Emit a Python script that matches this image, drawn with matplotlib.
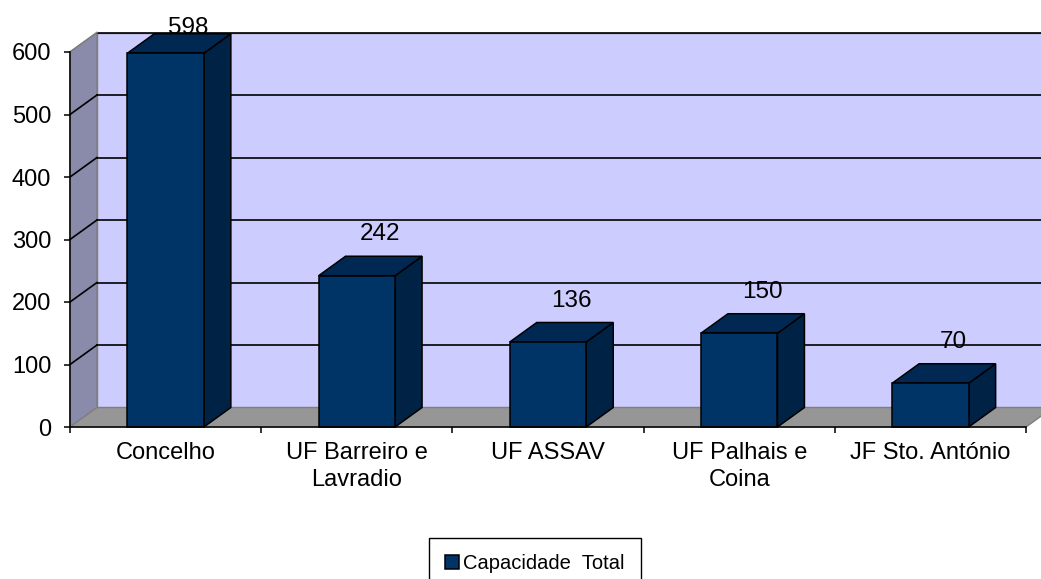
import matplotlib
matplotlib.use("Agg")
import matplotlib.pyplot as plt
from matplotlib.patches import Polygon, Rectangle, Patch

# data
categories = ['Concelho', 'UF Barreiro e\nLavradio', 'UF ASSAV',
              'UF Palhais e\nCoina', 'JF Sto. António']
values = [598, 242, 136, 150, 70]
y_ticks = [0, 100, 200, 300, 400, 500, 600]
series_name = 'Capacidade  Total'

plt.rcParams['font.family'] = ['Liberation Sans', 'DejaVu Sans']

W, H = 1041, 579
fig = plt.figure(figsize=(W / 100, H / 100), dpi=100)
fig.patch.set_facecolor('white')

# plot area (front plane)
left_px, right_px, zero_px, top_px = 70, 1026, 427, 52
ax = fig.add_axes([left_px / W, (H - zero_px) / H,
                   (right_px - left_px) / W, (zero_px - top_px) / H])
n = len(categories)
ymax = y_ticks[-1]
ax.set_xlim(0, n)
ax.set_ylim(0, ymax)
ax.set_facecolor('none')

# depth offset of the fake 3D, in data units
dx = 27 / (right_px - left_px) * n
dy = 19.5 / (zero_px - top_px) * ymax

# walls and floor
ax.add_patch(Polygon([(0, 0), (dx, dy), (dx, ymax + dy), (0, ymax)],
                     closed=True, facecolor='#8a8aab', edgecolor='#7f7f7f',
                     lw=1, clip_on=False, zorder=0.5))
ax.add_patch(Rectangle((dx, dy), n, ymax, facecolor='#ccccff',
                       edgecolor='#7f7f7f', lw=1, clip_on=False, zorder=0.5))
ax.add_patch(Polygon([(0, 0), (n, 0), (n + dx, dy), (dx, dy)],
                     closed=True, facecolor='#969696', edgecolor='#7f7f7f',
                     lw=1, clip_on=False, zorder=0.6))

# gridlines on the back wall
for t in y_ticks[1:]:
    ax.plot([dx, n + dx], [t + dy, t + dy], color='black', lw=1.2,
            clip_on=False, zorder=0.8)
    ax.plot([0, dx], [t, t + dy], color='#7f7f7f' if t == ymax else 'black',
            lw=1.2, clip_on=False, zorder=0.8)

# bars
bw = 0.4
front_c, top_c, side_c = '#003366', '#002852', '#002244'
for i, v in enumerate(values):
    x0 = i + 0.5 - bw / 2
    ax.add_patch(Polygon([(x0 + bw, 0), (x0 + bw + dx, dy),
                          (x0 + bw + dx, v + dy), (x0 + bw, v)],
                         closed=True, facecolor=side_c, edgecolor='black',
                         lw=1.1, clip_on=False, zorder=3))
    ax.add_patch(Polygon([(x0, v), (x0 + bw, v), (x0 + bw + dx, v + dy),
                          (x0 + dx, v + dy)],
                         closed=True, facecolor=top_c, edgecolor='black',
                         lw=1.1, clip_on=False, zorder=3))
    ax.add_patch(Rectangle((x0, 0), bw, v, facecolor=front_c,
                           edgecolor='black', lw=1.1, clip_on=False, zorder=3))
    ax.text(i + 0.5 + 0.12, min(v + dy + 35, 638), str(v), ha='center',
            va='center', fontsize=17.5, zorder=4, clip_on=False)

# axes lines and ticks
for s in ['top', 'right']:
    ax.spines[s].set_visible(False)
ax.spines['left'].set_linewidth(1.1)
ax.spines['bottom'].set_linewidth(1.1)
ax.spines['bottom'].set_zorder(3.5)

ax.set_yticks(y_ticks)
ax.tick_params(axis='y', direction='out', length=4.5, width=1.1, pad=9,
               labelsize=17)
ax.set_xticks(range(n + 1))
ax.set_xticklabels([])
ax.set_xticks([i + 0.5 for i in range(n)], minor=True)
ax.set_xticklabels(categories, minor=True, fontsize=17, linespacing=1.3)
ax.tick_params(axis='x', which='major', direction='out', length=4, width=1.1)
ax.tick_params(axis='x', which='minor', length=0, pad=11)

# legend
handle = Patch(facecolor=front_c, edgecolor='black', lw=1.1, label=series_name)
leg = fig.legend(handles=[handle], loc='upper left',
                 bbox_to_anchor=(429 / W, 1 - 538 / H), fontsize=14.5,
                 frameon=True, fancybox=False, framealpha=1,
                 edgecolor='black', handlelength=0.7, handleheight=0.7,
                 handletextpad=0.2, borderpad=0.8, borderaxespad=0)
leg.get_frame().set_linewidth(1)

fig.savefig('out.png', dpi=100)
